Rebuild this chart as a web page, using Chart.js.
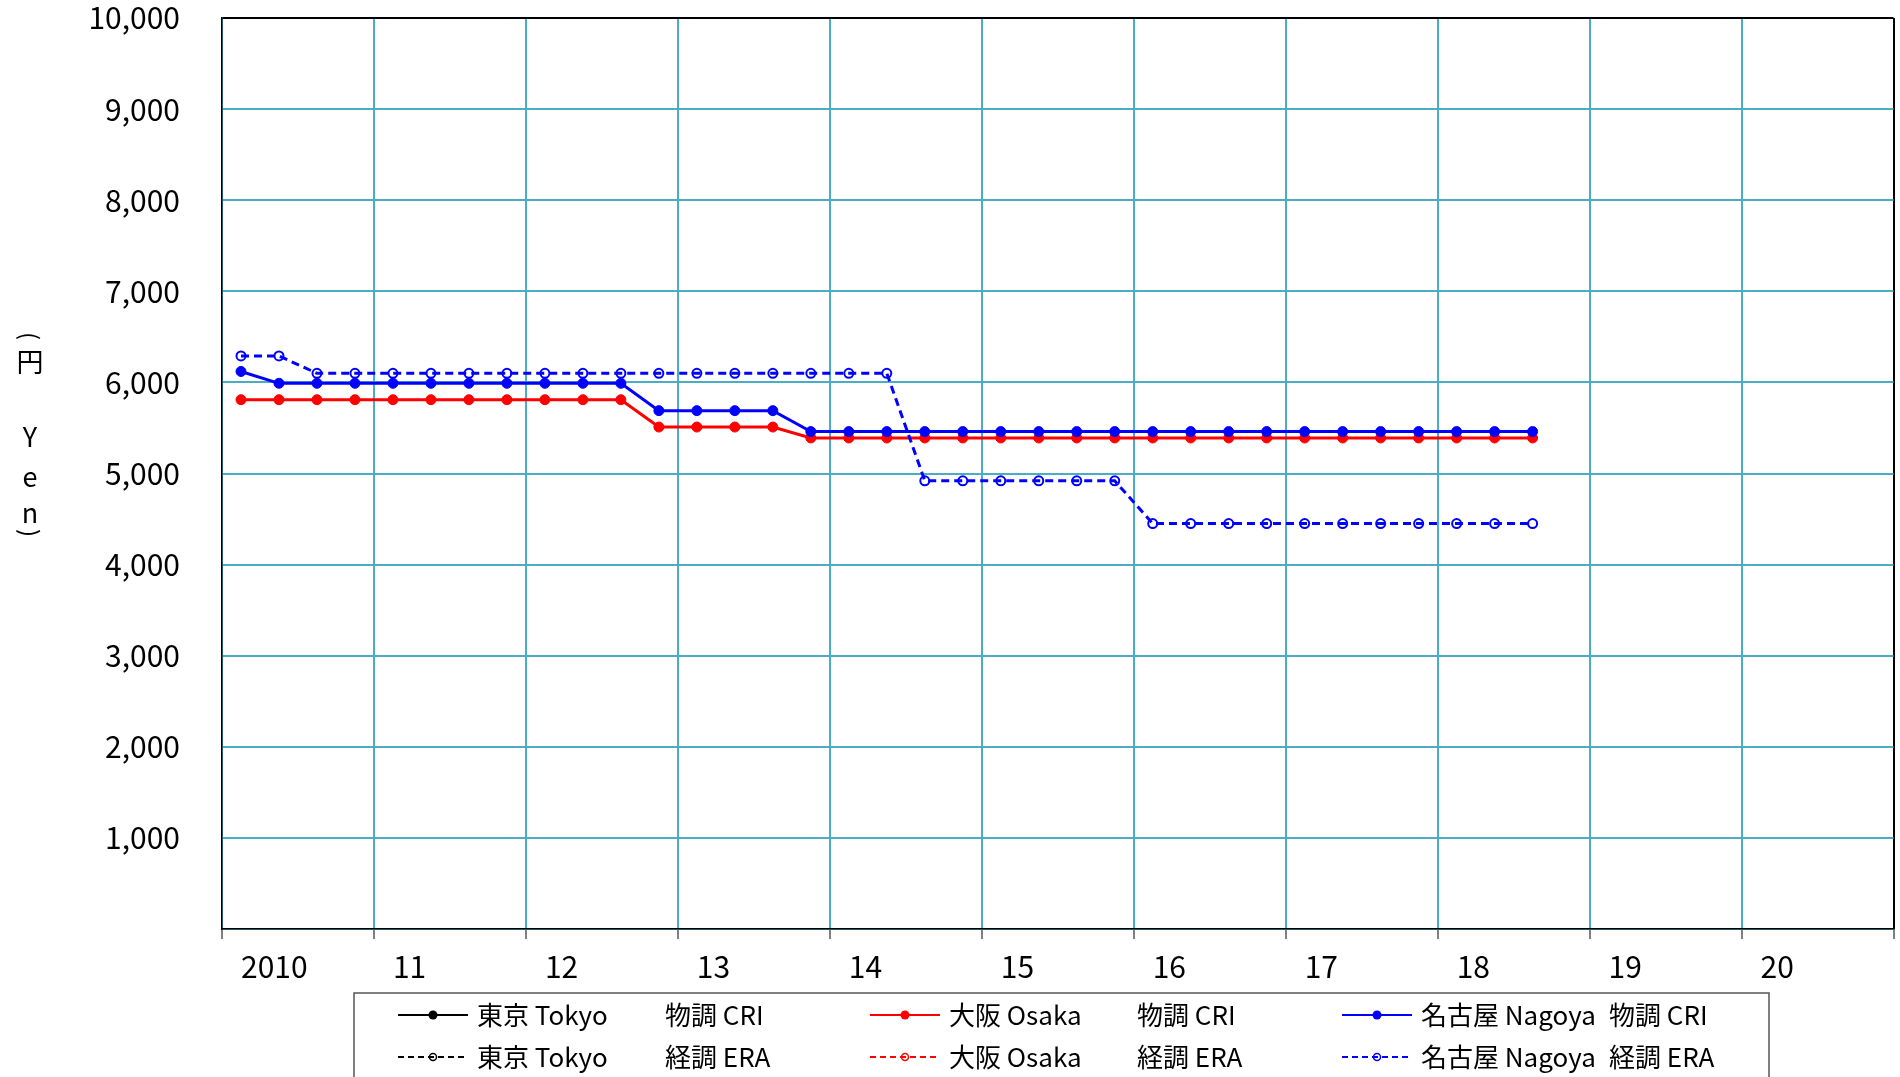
<!DOCTYPE html>
<html>
<head>
<meta charset="utf-8">
<script src="https://cdn.jsdelivr.net/npm/chart.js@4.4.1/dist/chart.umd.min.js"></script>
<style>
    html, body { margin: 0; padding: 0; background: #fff; }
    canvas { display: block; }
</style>
</head>
<body>
<canvas id="priceCanvas" width="1900" height="1077"></canvas>
<script>
// years on the x axis (each year = 4 quarters)
var yearLabels = ['2010', '11', '12', '13', '14', '15', '16', '17', '18', '19', '20'];

// legend names
var cityNames = ['東京 Tokyo', '大阪 Osaka', '名古屋 Nagoya'];
var sourceNames = ['物調 CRI', '経調 ERA'];

// quarterly prices (yen), 2010 Q1 .. 2018 Q3
var tokyoCri = [];
var tokyoEra = [];
var osakaCri = [5810, 5810, 5810, 5810, 5810, 5810, 5810, 5810, 5810, 5810, 5810,
    5510, 5510, 5510, 5510,
    5390, 5390, 5390, 5390, 5390, 5390, 5390, 5390, 5390, 5390,
    5390, 5390, 5390, 5390, 5390, 5390, 5390, 5390, 5390, 5390];
var osakaEra = [];
var nagoyaCri = [6120, 5990, 5990, 5990, 5990, 5990, 5990, 5990, 5990, 5990, 5990,
    5690, 5690, 5690, 5690,
    5460, 5460, 5460, 5460, 5460, 5460, 5460, 5460, 5460, 5460,
    5460, 5460, 5460, 5460, 5460, 5460, 5460, 5460, 5460, 5460];
var nagoyaEra = [6290, 6290, 6100, 6100, 6100, 6100, 6100, 6100, 6100, 6100, 6100,
    6100, 6100, 6100, 6100, 6100, 6100, 6100,
    4920, 4920, 4920, 4920, 4920, 4920,
    4450, 4450, 4450, 4450, 4450, 4450, 4450, 4450, 4450, 4450, 4450];

var cityColors = ['#000000', '#ff0000', '#0000ff'];
var gridColor = '#4bacc6';
var fontFamily = '"Noto Sans CJK JP", "Noto Sans", sans-serif';

var quarterLabels = [];
yearLabels.forEach(function (y) {
    quarterLabels.push(y, '', '', '');
});

function makeDataset(city, src, values) {
    var dashed = src === 1;
    return {
        label: cityNames[city] + ' ' + sourceNames[src],
        city: city,
        src: src,
        data: values,
        borderColor: cityColors[city],
        backgroundColor: cityColors[city],
        borderWidth: 3,
        borderDash: dashed ? [8, 5] : [],
        pointRadius: dashed ? 4.5 : 5,
        pointBorderWidth: dashed ? 2 : 1,
        pointBackgroundColor: dashed ? 'rgba(0,0,0,0)' : cityColors[city],
        pointBorderColor: cityColors[city],
        tension: 0,
        fill: false
    };
}

// Nagoya first so it is painted on top
var datasets = [
    makeDataset(2, 0, nagoyaCri),
    makeDataset(2, 1, nagoyaEra),
    makeDataset(1, 0, osakaCri),
    makeDataset(1, 1, osakaEra),
    makeDataset(0, 0, tokyoCri),
    makeDataset(0, 1, tokyoEra)
];

// vertical axis title （円 Yen）, written top to bottom
var yTitlePlugin = {
    id: 'yTitle',
    afterDraw: function (chart) {
        var ctx = chart.ctx;
        var base = chart.chartArea.top;
        var parts = [['(', 318, true], ['円', 344], ['Y', 419], ['e', 459], ['n', 495], [')', 515, true]];
        ctx.save();
        ctx.fillStyle = '#000';
        ctx.textAlign = 'center';
        ctx.textBaseline = 'middle';
        parts.forEach(function (p) {
            if (p[2]) {
                ctx.save();
                ctx.translate(30, base + p[1]);
                ctx.rotate(Math.PI / 2);
                ctx.font = '24px ' + fontFamily;
                ctx.fillText(p[0], 0, 0);
                ctx.restore();
            } else {
                ctx.font = '27px ' + fontFamily;
                ctx.fillText(p[0], 30, base + p[1]);
            }
        });
        ctx.restore();
    }
};

// boxed legend below the x axis: 3 columns x 2 rows
var boxLegendPlugin = {
    id: 'boxLegend',
    afterDraw: function (chart) {
        var ctx = chart.ctx;
        var top = chart.chartArea.bottom + 64;
        ctx.save();
        ctx.strokeStyle = '#555';
        ctx.lineWidth = 1.5;
        ctx.strokeRect(354, top, 1415, 200);
        chart.data.datasets.forEach(function (ds) {
            var x0 = 398 + ds.city * 472;
            var y = top + 22 + ds.src * 42;
            ctx.strokeStyle = ds.borderColor;
            ctx.fillStyle = ds.borderColor;
            ctx.lineWidth = 2;
            ctx.setLineDash(ds.src === 1 ? [6, 4] : []);
            ctx.beginPath();
            ctx.moveTo(x0, y);
            ctx.lineTo(x0 + 70, y);
            ctx.stroke();
            ctx.setLineDash([]);
            ctx.beginPath();
            if (ds.src === 1) {
                ctx.lineWidth = 1.5;
                ctx.arc(x0 + 35, y, 3.5, 0, Math.PI * 2);
                ctx.stroke();
            } else {
                ctx.arc(x0 + 35, y, 4.5, 0, Math.PI * 2);
                ctx.fill();
            }
            ctx.fillStyle = '#000';
            ctx.font = '26px ' + fontFamily;
            ctx.textAlign = 'left';
            ctx.textBaseline = 'middle';
            ctx.fillText(cityNames[ds.city], x0 + 79, y);
            ctx.fillText(sourceNames[ds.src], x0 + 79 + 188, y);
        });
        ctx.restore();
    }
};

var ctx = document.getElementById('priceCanvas').getContext('2d');
window.priceChart = new Chart(ctx, {
    type: 'line',
    data: {
        labels: quarterLabels,
        datasets: datasets
    },
    plugins: [yTitlePlugin, boxLegendPlugin],
    options: {
        responsive: false,
        animation: false,
        devicePixelRatio: 1,
        layout: { padding: { top: 18, right: 2, left: 0, bottom: 0 } },
        plugins: {
            legend: { display: false },
            tooltip: { enabled: false }
        },
        scales: {
            x: {
                type: 'category',
                offset: true,
                grid: {
                    offset: true,
                    lineWidth: 2,
                    tickLength: 10,
                    color: function (c) {
                        if (c.type !== 'tick') return '#000';
                        return c.index % 4 === 0 ? gridColor : 'rgba(0,0,0,0)';
                    },
                    tickColor: function (c) {
                        if (c.type !== 'tick') return '#000';
                        return c.index % 4 === 0 ? '#000' : 'rgba(0,0,0,0)';
                    },
                    tickWidth: 1
                },
                border: { color: '#000', width: 1.5 },
                ticks: {
                    autoSkip: false,
                    maxRotation: 0,
                    minRotation: 0,
                    align: 'start',
                    padding: 10,
                    color: '#000',
                    font: { family: fontFamily, size: 30 }
                },
                afterFit: function (scale) {
                    scale.height = 148;
                    scale.paddingLeft = 0;
                    scale.paddingRight = 0;
                }
            },
            y: {
                min: 0,
                max: 10000,
                grid: {
                    drawTicks: false,
                    lineWidth: 2,
                    color: function (c) {
                        return c.tick && c.tick.value === 10000 ? '#000' : gridColor;
                    }
                },
                border: { color: '#000', width: 1.5 },
                ticks: {
                    stepSize: 1000,
                    padding: 42,
                    color: '#000',
                    font: { family: fontFamily, size: 30 },
                    callback: function (v) {
                        return v === 0 ? '' : v.toLocaleString('en-US');
                    }
                },
                afterFit: function (scale) {
                    scale.width = 222;
                    scale.paddingTop = 0;
                    scale.paddingBottom = 0;
                }
            }
        }
    }
});
</script>
</body>
</html>
